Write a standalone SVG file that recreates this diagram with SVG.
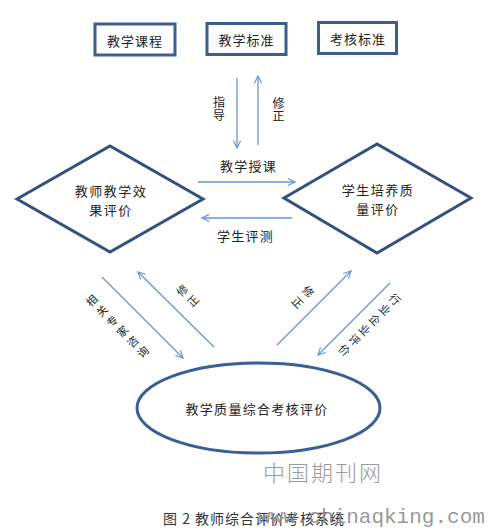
<svg xmlns="http://www.w3.org/2000/svg" width="490" height="529" viewBox="0 0 490 529">
<style>
.t{font-family:"Noto Sans CJK SC","Noto Sans CJK JP",sans-serif;fill:#222;}
.box{fill:#fff;stroke:#3d5f8f;stroke-width:3;}
.dia{fill:#fff;stroke:#34507f;stroke-width:3;}
.arr{stroke:#6a96cf;stroke-width:1.3;fill:none;marker-end:url(#ah);}
.v{writing-mode:vertical-rl;}
</style>
<defs>
<marker id="ah" viewBox="0 0 10 10" refX="9" refY="5" markerWidth="9" markerHeight="9" markerUnits="userSpaceOnUse" orient="auto">
<path d="M1,1 L9,5 L1,9" fill="none" stroke="#6a96cf" stroke-width="1.3"/>
</marker>
</defs>
<rect width="490" height="529" fill="#fff"/>

<g id="course"><rect class="box" x="95" y="24" width="80" height="31"/><text class="t" x="135" y="45.5" font-size="13" letter-spacing="1" text-anchor="middle">教学课程</text></g>
<g id="standard"><rect class="box" x="207" y="23.5" width="79" height="31"/><text class="t" x="246.5" y="45" font-size="13" letter-spacing="1" text-anchor="middle">教学标准</text></g>
<g id="assess"><rect class="box" x="318.5" y="22.5" width="78" height="31"/><text class="t" x="358" y="44" font-size="13" letter-spacing="1" text-anchor="middle">考核标准</text></g>

<g id="teacher"><polygon class="dia" points="17,199 110,146 203,199 110,252"/>
<text class="t" x="111" y="196" font-size="13" letter-spacing="1.5" text-anchor="middle">教师教学效</text>
<text class="t" x="111" y="215" font-size="13" letter-spacing="1.5" text-anchor="middle">果评价</text></g>

<g id="student"><polygon class="dia" points="284,198 377,144 471,198 377,253"/>
<text class="t" x="378" y="195" font-size="13" letter-spacing="1.5" text-anchor="middle">学生培养质</text>
<text class="t" x="378" y="214" font-size="13" letter-spacing="1.5" text-anchor="middle">量评价</text></g>

<g id="overall"><ellipse cx="258.5" cy="408" rx="121.5" ry="45" fill="#fff" stroke="#3a5f94" stroke-width="3"/>
<text class="t" x="257" y="414" font-size="13" letter-spacing="1.3" text-anchor="middle">教学质量综合考核评价</text></g>

<g id="connectors">
<line class="arr" x1="237" y1="78" x2="237" y2="148"/>
<line class="arr" x1="258" y1="145" x2="258" y2="76"/>
<line class="arr" x1="198" y1="182" x2="295" y2="182"/>
<line class="arr" x1="292" y1="218" x2="202" y2="218"/>
<line class="arr" x1="102" y1="277" x2="183" y2="358"/>
<line class="arr" x1="214" y1="347" x2="138" y2="272"/>
<line class="arr" x1="277" y1="345" x2="351" y2="271"/>
<line class="arr" x1="390" y1="283" x2="318" y2="355"/>
</g>

<g id="labels">
<text class="t v" x="219" y="109.5" font-size="12" letter-spacing="1" text-anchor="middle">指导</text>
<text class="t v" x="278.5" y="110" font-size="12" letter-spacing="1" text-anchor="middle">修正</text>
<text class="t" x="248.5" y="171" font-size="13" letter-spacing="1.3" text-anchor="middle">教学授课</text>
<text class="t" x="245.5" y="241" font-size="13" letter-spacing="1.3" text-anchor="middle">学生评测</text>
<text class="t v" transform="translate(118.5,327.5) rotate(-45)" font-size="11" letter-spacing="3.5" text-anchor="middle">相关专家咨询</text>
<text class="t v" transform="translate(189,297) rotate(-45)" font-size="11" letter-spacing="4" text-anchor="middle">修正</text>
<text class="t v" transform="translate(301.5,298.5) rotate(45)" font-size="11" letter-spacing="4" text-anchor="middle">修正</text>
<text class="t v" transform="translate(368.5,326) rotate(45)" font-size="11" letter-spacing="3.3" text-anchor="middle">行业企业评价</text>
</g>

<text x="323" y="481" font-family="'Noto Sans CJK SC',sans-serif" font-size="22" font-weight="300" fill="#9a9a9a" letter-spacing="2" text-anchor="middle">中国期刊网</text>
<text x="163" y="524" font-family="'Noto Sans CJK SC',sans-serif" font-size="14" fill="#333" letter-spacing="1">图 2 教师综合评价考核系统</text>
<text x="258" y="523" font-family="'Liberation Mono',monospace" font-size="21" fill="#8a8a8a" fill-opacity="0.9">www.chinaqking.com</text>
</svg>
